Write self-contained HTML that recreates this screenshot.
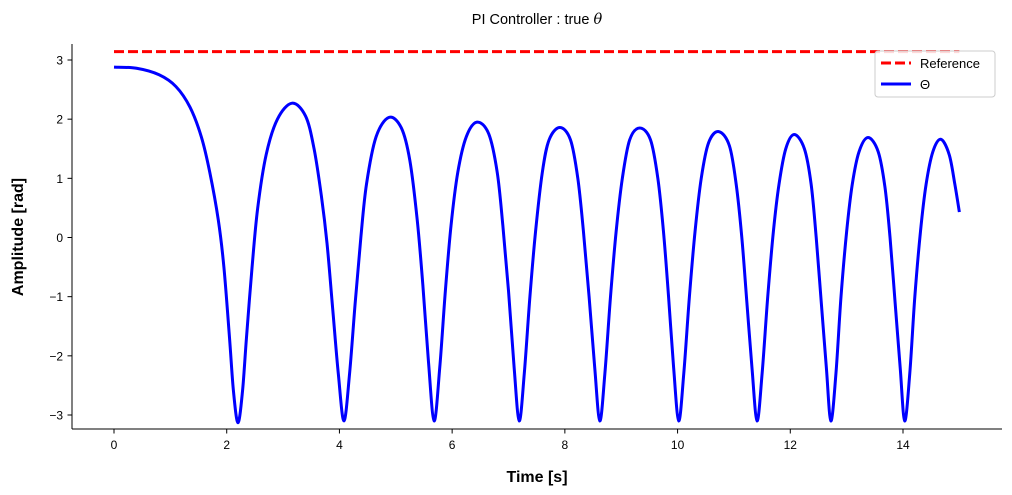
<!DOCTYPE html>
<html><head><meta charset="utf-8"><style>
html,body{margin:0;padding:0;background:#fff;}
svg{display:block;font-family:"Liberation Sans","DejaVu Sans",sans-serif;}
</style></head><body>
<svg id="chart" width="1012" height="495" viewBox="0 0 1012 495">
<text x="537" y="24" text-anchor="middle" font-size="14.5">PI Controller : true <tspan font-style="italic" font-family="DejaVu Serif, serif">θ</tspan></text>
<g id="plot"></g>
<line x1="72" y1="44" x2="72" y2="429" stroke="#000" stroke-width="1"/>
<line x1="72" y1="429" x2="1002" y2="429" stroke="#000" stroke-width="1"/>
<g id="xticks"></g>
<g id="yticks"></g>
<text x="537" y="482" text-anchor="middle" font-size="16" font-weight="bold">Time [s]</text>
<text transform="translate(23,237) rotate(-90)" text-anchor="middle" font-size="16" font-weight="bold">Amplitude [rad]</text>
<g>
<rect x="875" y="51" width="120" height="46" rx="3" fill="#fff" fill-opacity="0.85" stroke="#ccc"/>
<line x1="881" y1="63" x2="911" y2="63" stroke="#f00" stroke-width="3" stroke-dasharray="10,4"/>
<text x="920" y="68" font-size="13">Reference</text>
<line x1="881" y1="84" x2="911" y2="84" stroke="#00f" stroke-width="3"/>
<text x="920" y="89" font-size="13">Θ</text>
</g>
</svg>
<script>
const timeValues=[0,0.4,0.8,1.1,1.35,1.55,1.7,1.85,1.95,2.05,2.12,2.2,
2.28,2.35,2.45,2.55,2.7,2.9,3.16,3.4,3.55,3.68,3.78,3.88,3.98,4.08,
4.18,4.28,4.38,4.48,4.65,4.88,5.1,5.25,5.38,5.48,5.58,5.68,
5.78,5.88,5.98,6.1,6.25,6.44,6.65,6.8,6.9,7.0,7.1,7.19,
7.28,7.38,7.48,7.6,7.72,7.91,8.1,8.23,8.33,8.43,8.53,8.62,
8.71,8.81,8.91,9.02,9.15,9.33,9.52,9.65,9.75,9.84,9.93,10.02,
10.11,10.21,10.31,10.42,10.55,10.73,10.92,11.04,11.14,11.23,11.32,11.41,
11.5,11.6,11.7,11.8,11.92,12.07,12.25,12.37,12.46,12.55,12.64,12.72,
12.81,12.9,13.0,13.1,13.22,13.38,13.56,13.68,13.77,13.86,13.95,14.03,
14.12,14.21,14.31,14.41,14.53,14.67,14.82,14.92,15.0];
const thetaValues=[2.88,2.86,2.75,2.55,2.2,1.7,1.1,0.3,-0.5,-1.7,-2.6,-3.13,
-2.6,-1.7,-0.5,0.5,1.4,2.0,2.27,2.05,1.5,0.7,-0.1,-1.2,-2.3,-3.1,
-2.3,-1.1,0.0,0.9,1.7,2.03,1.85,1.3,0.3,-0.8,-2.1,-3.1,
-2.2,-0.9,0.2,1.1,1.7,1.95,1.75,1.1,0.2,-0.9,-2.2,-3.1,
-2.3,-1.0,0.1,1.1,1.65,1.86,1.65,1.0,0.1,-1.0,-2.2,-3.1,
-2.3,-1.0,0.1,1.0,1.65,1.85,1.65,1.0,0.1,-1.0,-2.2,-3.1,
-2.3,-1.0,0.1,1.0,1.6,1.79,1.55,0.9,0.0,-1.1,-2.2,-3.1,
-2.3,-1.0,0.1,0.9,1.5,1.74,1.5,0.9,0.0,-1.1,-2.2,-3.1,
-2.3,-1.0,0.1,0.9,1.45,1.69,1.45,0.85,0.0,-1.1,-2.2,-3.1,
-2.3,-1.0,0.1,0.9,1.45,1.66,1.4,0.9,0.43];
const referenceValue=[3.14159];
const referenceTimes=[0,15];
const xTickLabels=[0,2,4,6,8,10,12,14];
const yTickLabels=[-3,-2,-1,0,1,2,3];

const NS="http://www.w3.org/2000/svg";
function xs(t){return 114+(t-0)*(903-114)/14;}
function ys(v){return 237.5-v*(415-60)/6;}
function mk(tag,attrs,parent){const e=document.createElementNS(NS,tag);for(const k in attrs)e.setAttribute(k,attrs[k]);parent.appendChild(e);return e;}
const plot=document.getElementById('plot');
const ref=mk('line',{x1:xs(referenceTimes[0]),x2:xs(referenceTimes[1]),y1:ys(referenceValue[0]),y2:ys(referenceValue[0]),stroke:'#f00','stroke-width':3,'stroke-dasharray':'10,4'},plot);


const P=timeValues.map((t,i)=>[xs(t),ys(thetaValues[i])]);
let d='M'+P[0][0]+','+P[0][1];
for(let i=0;i<P.length-1;i++){
  const p0=P[Math.max(0,i-1)],p1=P[i],p2=P[i+1],p3=P[Math.min(P.length-1,i+2)];
  const c1=[p1[0]+(p2[0]-p0[0])/6,p1[1]+(p2[1]-p0[1])/6];
  const c2=[p2[0]-(p3[0]-p1[0])/6,p2[1]-(p3[1]-p1[1])/6];
  d+=' C'+c1[0]+','+c1[1]+' '+c2[0]+','+c2[1]+' '+p2[0]+','+p2[1];
}
const th=mk('path',{d:d,fill:'none',stroke:'#00f','stroke-width':3,'stroke-linejoin':'round'},plot);


const xg=document.getElementById('xticks');
xTickLabels.forEach(v=>{
  const l=mk('line',{x1:xs(v),x2:xs(v),y1:429,y2:433.5,stroke:'#000'},xg);
  
  
  const t=mk('text',{x:xs(v),y:449,'text-anchor':'middle','font-size':12},xg);
  t.textContent=v;
  
  
});
const yg=document.getElementById('yticks');
yTickLabels.forEach(v=>{
  const l=mk('line',{x1:67.5,x2:72,y1:ys(v),y2:ys(v),stroke:'#000'},yg);
  
  
  const t=mk('text',{x:63,y:ys(v)+4.5,'text-anchor':'end','font-size':12},yg);
  t.textContent=v<0?'\u2212'+Math.abs(v):String(v);
  
  
});
</script>
</body></html>
